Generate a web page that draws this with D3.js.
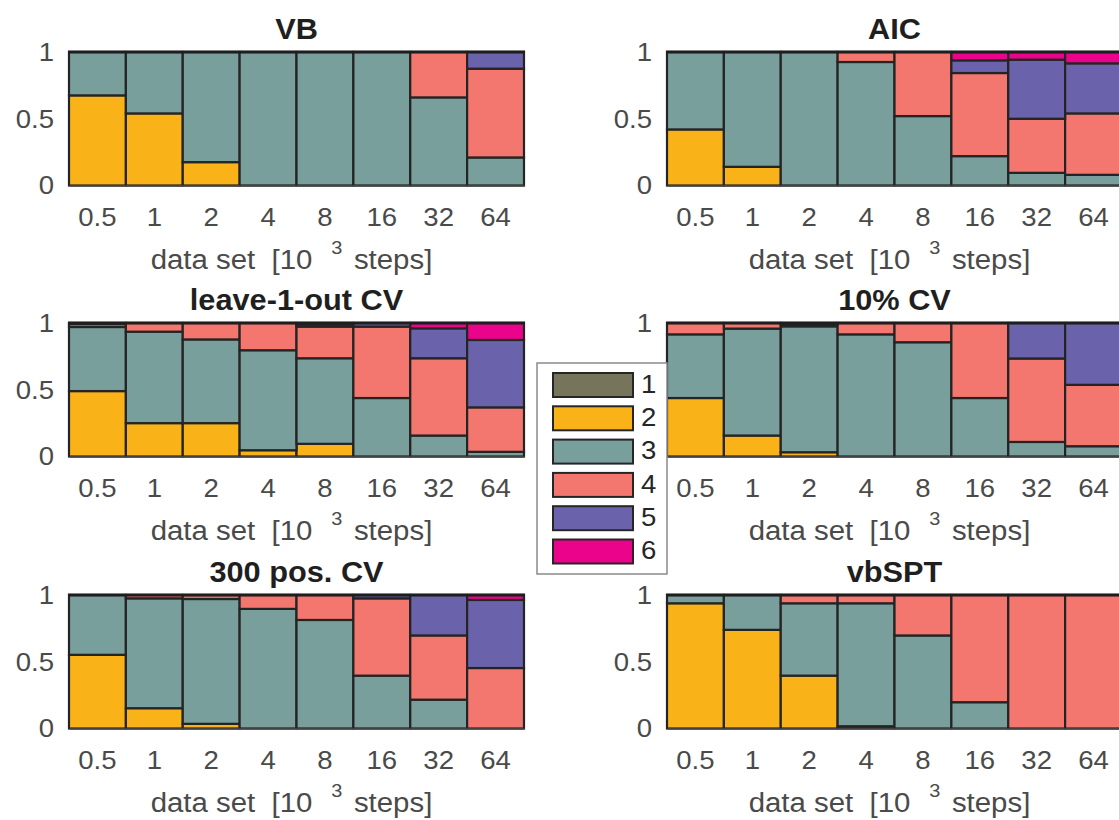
<!DOCTYPE html>
<html>
<head>
<meta charset="utf-8">
<script src="https://cdn.jsdelivr.net/npm/d3@7"></script>
<style>
  html, body { margin: 0; padding: 0; background: #fff; overflow: hidden; }
  svg { display: block; font-family: "Liberation Sans", Arial, Helvetica, sans-serif; }
</style>
</head>
<body>
<svg id="chart" width="1119" height="820"></svg>
<script>
// ---- data ----
const sizes = ["0.5", "1", "2", "4", "8", "16", "32", "64"];
const classes = ["1", "2", "3", "4", "5", "6"];
const classColors = ["#76745a", "#fab219", "#789f9c", "#f3776f", "#6a63ac", "#ec038b"];
const yTicks = [0, 0.5, 1];

// rows = class 1..6, columns = data set size
const VB = [
  [0, 0, 0, 0, 0, 0, 0, 0],
  [0.675, 0.54, 0.175, 0, 0, 0, 0, 0],
  [0.325, 0.46, 0.825, 1, 1, 1, 0.66, 0.21],
  [0, 0, 0, 0, 0, 0, 0.34, 0.665],
  [0, 0, 0, 0, 0, 0, 0, 0.125],
  [0, 0, 0, 0, 0, 0, 0, 0]
];
const AIC = [
  [0, 0, 0, 0, 0, 0, 0, 0],
  [0.42, 0.14, 0, 0, 0, 0, 0, 0],
  [0.58, 0.86, 1, 0.925, 0.52, 0.22, 0.095, 0.08],
  [0, 0, 0, 0.075, 0.48, 0.6225, 0.405, 0.46],
  [0, 0, 0, 0, 0, 0.095, 0.4425, 0.375],
  [0, 0, 0, 0, 0, 0.0625, 0.0575, 0.085]
];
const LOO = [
  [0, 0, 0, 0, 0, 0, 0, 0],
  [0.49, 0.25, 0.25, 0.047, 0.095, 0, 0, 0],
  [0.48, 0.685, 0.627, 0.749, 0.641, 0.438, 0.157, 0.035],
  [0.022, 0.065, 0.123, 0.204, 0.237, 0.535, 0.579, 0.333],
  [0.008, 0, 0, 0, 0.017, 0.027, 0.224, 0.505],
  [0, 0, 0, 0, 0.01, 0, 0.04, 0.127]
];
const CV10 = [
  [0, 0, 0, 0, 0, 0, 0, 0],
  [0.438, 0.157, 0.032, 0, 0, 0, 0, 0],
  [0.477, 0.801, 0.943, 0.915, 0.856, 0.438, 0.109, 0.077],
  [0.085, 0.042, 0.015, 0.085, 0.144, 0.562, 0.625, 0.46],
  [0, 0, 0.01, 0, 0, 0, 0.266, 0.463],
  [0, 0, 0, 0, 0, 0, 0, 0]
];
const POS300 = [
  [0, 0, 0, 0, 0, 0, 0, 0],
  [0.552, 0.152, 0.035, 0, 0, 0, 0, 0],
  [0.448, 0.823, 0.935, 0.896, 0.813, 0.396, 0.216, 0],
  [0, 0.025, 0.03, 0.104, 0.187, 0.579, 0.481, 0.453],
  [0, 0, 0, 0, 0, 0.025, 0.303, 0.51],
  [0, 0, 0, 0, 0, 0, 0, 0.037]
];
const VBSPT = [
  [0, 0, 0, 0, 0, 0, 0, 0],
  [0.938, 0.739, 0.396, 0.017, 0, 0, 0, 0],
  [0.062, 0.261, 0.542, 0.921, 0.697, 0.197, 0, 0],
  [0, 0, 0.062, 0.062, 0.303, 0.803, 1, 1],
  [0, 0, 0, 0, 0, 0, 0, 0],
  [0, 0, 0, 0, 0, 0, 0, 0]
];

const panels = [
  { title: "VB", data: VB, col: 0, row: 0 },
  { title: "AIC", data: AIC, col: 1, row: 0 },
  { title: "leave-1-out CV", data: LOO, col: 0, row: 1 },
  { title: "10% CV", data: CV10, col: 1, row: 1 },
  { title: "300 pos. CV", data: POS300, col: 0, row: 2 },
  { title: "vbSPT", data: VBSPT, col: 1, row: 2 }
];

// ---- layout ----
const colLeft = [69, 667];
const plotW = 455;
const rowTop = [52, 323, 595];
const plotH = 133.5;
const SX = 1.06; // horizontal text stretch seen in the reference

// legend box (it covers the y tick labels of the middle-right panel below it)
const legendBox = { x: 537, y: 363, w: 130, h: 211 };

const svg = d3.select("#chart");
const color = d3.scaleOrdinal().domain(classes).range(classColors);

panels.forEach(p => {
  const x0 = colLeft[p.col], y0 = rowTop[p.row];
  const x = d3.scaleBand().domain(sizes).range([x0, x0 + plotW]).padding(0);
  const y = d3.scaleLinear().domain([0, 1]).range([y0 + plotH, y0]);

  const rows = sizes.map((s, i) => {
    const o = { size: s };
    classes.forEach((c, k) => { o[c] = p.data[k][i]; });
    return o;
  });
  const stacked = d3.stack().keys(classes)(rows);

  const g = svg.append("g");

  // y tick labels (those hidden under the legend box are not drawn)
  const visibleTicks = yTicks.filter(t => {
    const ty = y(t), tx = x0 - 15;
    const hidden = tx > legendBox.x && ty + 12 > legendBox.y && ty - 12 < legendBox.y + legendBox.h;
    return !hidden;
  });
  g.selectAll("g.ytick").data(visibleTicks).join("g")
    .attr("class", "ytick")
    .attr("transform", d => `translate(${x0 - 15},${y(d) + 2}) scale(${SX},1)`)
    .append("text")
    .attr("text-anchor", "end")
    .attr("dominant-baseline", "middle")
    .attr("font-size", 26)
    .attr("fill", "#4a4a4a")
    .text(d => d);

  // bars
  stacked.forEach(layer => {
    g.append("g").selectAll("rect")
      .data(layer.filter(d => d[1] - d[0] > 0))
      .join("rect")
      .attr("x", d => x(d.data.size))
      .attr("width", x.bandwidth())
      .attr("y", d => y(d[1]))
      .attr("height", d => y(d[0]) - y(d[1]))
      .attr("fill", color(layer.key))
      .attr("stroke", "#242424")
      .attr("stroke-width", 2.2);
  });

  // top edge
  g.append("line")
    .attr("x1", x0 - 1).attr("x2", x0 + plotW + 1)
    .attr("y1", y(1)).attr("y2", y(1))
    .attr("stroke", "#1e1e1e").attr("stroke-width", 3);

  // bottom axis
  const ax = g.append("g")
    .attr("transform", `translate(0,${y0 + plotH})`)
    .call(d3.axisBottom(x).tickSize(0).tickPadding(22));
  ax.select(".domain").attr("stroke", "#4d4d4d").attr("stroke-width", 1.6);
  ax.selectAll("text")
    .attr("font-size", 26)
    .attr("font-family", "Liberation Sans, Arial, sans-serif")
    .attr("fill", "#4a4a4a")
    .attr("transform", `scale(${SX},1)`);

  // title
  g.append("text")
    .attr("transform", `translate(${x0 + plotW / 2},${y0 - 13}) scale(1.06,1)`)
    .attr("text-anchor", "middle")
    .attr("font-size", 29)
    .attr("font-weight", "bold")
    .attr("fill", "#1f1f1f")
    .text(p.title);

  // x axis label
  const lbl = g.append("text")
    .attr("transform", `translate(${x0 + plotW / 2 - 5},${y0 + plotH + 83}) scale(1.05,1)`)
    .attr("text-anchor", "middle")
    .attr("font-size", 28)
    .attr("fill", "#4a4a4a")
    .style("white-space", "pre");
  lbl.append("tspan").text("data set  [10");
  lbl.append("tspan").attr("dx", 18).attr("dy", -15).attr("font-size", 19).text("3");
  lbl.append("tspan").attr("dx", 11).attr("dy", 15).text("steps]");
});

// ---- legend ----
const lg = svg.append("g");
lg.append("rect")
  .attr("x", legendBox.x).attr("y", legendBox.y)
  .attr("width", legendBox.w).attr("height", legendBox.h)
  .attr("fill", "#fff").attr("stroke", "#8a8a8a").attr("stroke-width", 1.5);
const ly = d3.scaleBand().domain(classes).range([373, 373 + 6 * 33.3]).padding(0);
classes.forEach(c => {
  lg.append("rect")
    .attr("x", 553).attr("y", ly(c)).attr("width", 80).attr("height", 24)
    .attr("fill", color(c)).attr("stroke", "#262626").attr("stroke-width", 2);
  lg.append("text")
    .attr("transform", `translate(641,${ly(c) + 13}) scale(1.06,1)`)
    .attr("dominant-baseline", "middle")
    .attr("font-size", 26)
    .attr("fill", "#262626")
    .text(c);
});
</script>
</body>
</html>
